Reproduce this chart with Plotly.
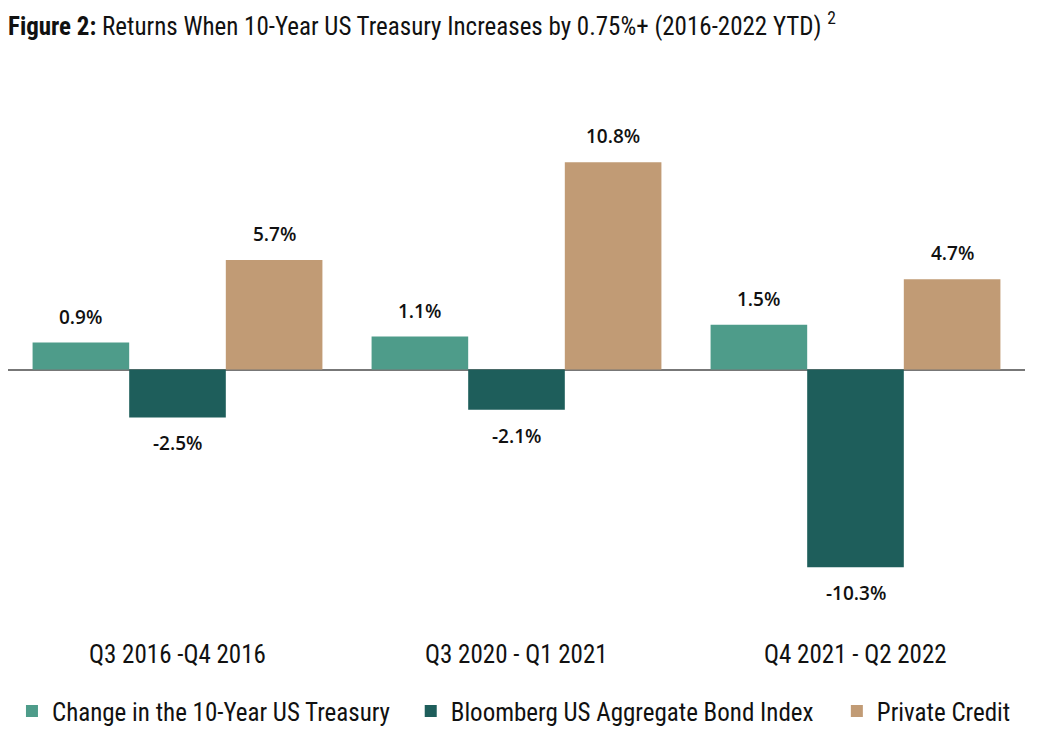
import plotly.graph_objects as go

categories = ["Q3 2016 -Q4 2016", "Q3 2020 - Q1 2021", "Q4 2021 - Q2 2022"]
series_names = ["Change in the 10-Year US Treasury", "Bloomberg US Aggregate Bond Index", "Private Credit"]
treasury = [0.9, 1.1, 1.5]
bond_index = [-2.5, -2.1, -10.3]
private_credit = [5.7, 10.8, 4.7]
colors = ["#4E9C8A", "#1E5E5B", "#C19B75"]

series_values = [treasury, bond_index, private_credit]
# the treasury change is drawn against its own (right, hidden) scale, as in the source
series_axes = ["y2", "y", "y"]

# the page adds an 8px body margin, so the figure is 8px smaller than the window
W, H = 1034, 736
ML, MR, MT, MB = 0, 17, 112, 125
YR = [-13, 13]
YR2 = [-8.34, 8.34]
BARGAP = 0.145
COND = "Roboto Condensed, Liberation Sans Narrow, Roboto"
legend_x = [0.0039, 0.396, 0.815]

fig = go.Figure()
for i, (name, vals, col, ax) in enumerate(zip(series_names, series_values, colors, series_axes)):
    lg = "legend" if i == 0 else f"legend{i + 1}"
    fig.add_trace(go.Bar(
        x=categories, y=vals, name=name, marker_color=col,
        marker_line_width=0, hoverinfo="skip", yaxis=ax,
        offsetgroup=str(i), legend=lg,
    ))

plot_w = W - ML - MR
cat_w = plot_w / len(categories)
bar_w = cat_w * (1 - BARGAP) / len(series_names)

label_font = dict(family="Open Sans", size=19, color="#111111", weight=600)
for si, (vals, ax) in enumerate(zip(series_values, series_axes)):
    for ci, v in enumerate(vals):
        fig.add_annotation(
            x=categories[ci], y=v, xref="x", yref=ax,
            text=f"{v:.1f}%",
            showarrow=False, font=label_font,
            xshift=(si - 1) * bar_w, yanchor="middle",
            yshift=26 if v >= 0 else -26,
        )

for c in categories:
    fig.add_annotation(
        x=c, y=0, xref="x", yref="paper", text=c, showarrow=False,
        yanchor="middle", yshift=-35,
        font=dict(family=COND, size=25, color="#111111"),
    )

legend_common = dict(orientation="h", xanchor="left", y=-0.185, yanchor="middle",
                     font=dict(family=COND, size=25, color="#111111"),
                     itemclick=False, itemdoubleclick=False, bgcolor="rgba(0,0,0,0)")

fig.update_layout(
    width=W, height=H,
    margin=dict(l=ML, r=MR, t=MT, b=MB),
    paper_bgcolor="white", plot_bgcolor="white",
    barmode="group", bargap=BARGAP, bargroupgap=0,
    title=dict(
        text="<b>Figure 2:</b> Returns When 10-Year US Treasury Increases by 0.75%+ (2016-2022 YTD) <sup>2</sup>",
        x=0, xref="container", xanchor="left", y=1 - 18 / H, yref="container", yanchor="middle",
        pad=dict(l=0, r=0, t=0, b=0),
        font=dict(family=COND, size=25, color="#111111"),
    ),
    xaxis=dict(showticklabels=False, showgrid=False, showline=False, zeroline=False, ticks=""),
    yaxis=dict(range=YR, showticklabels=False, showgrid=False, showline=False,
               zeroline=True, zerolinecolor="#777777", zerolinewidth=1.5),
    yaxis2=dict(range=YR2, overlaying="y", side="right", showticklabels=False, showgrid=False,
                showline=False, zeroline=False),
    showlegend=True,
    legend=dict(x=legend_x[0], **legend_common),
    legend2=dict(x=legend_x[1], **legend_common),
    legend3=dict(x=legend_x[2], **legend_common),
)

fig.write_html("out.html")
